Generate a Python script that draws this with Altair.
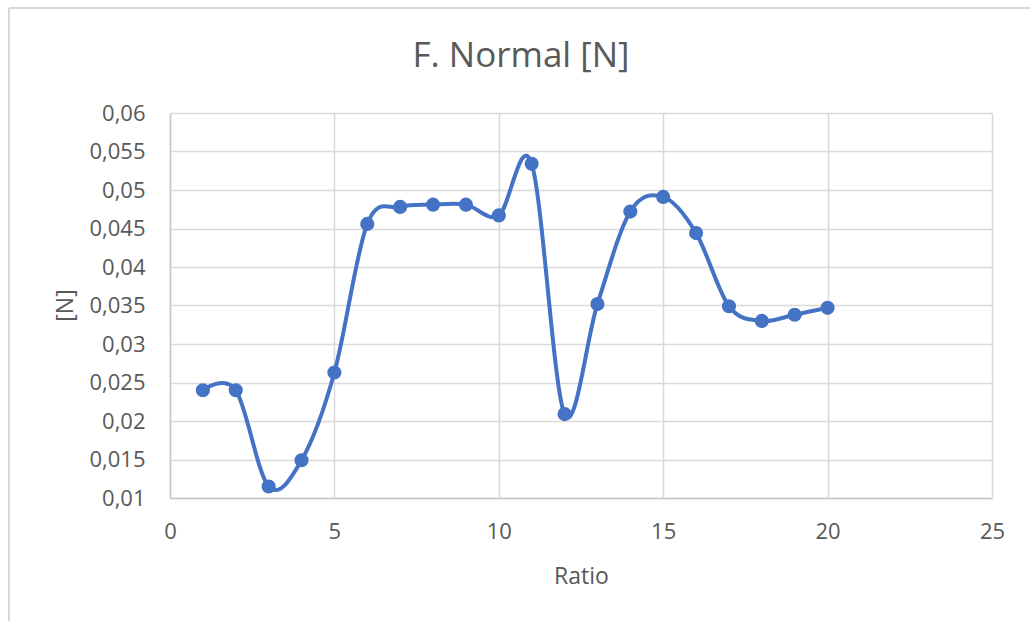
import altair as alt
import pandas as pd

ratio = [1, 2, 3, 4, 5, 6, 7, 8, 9, 10, 11, 12, 13, 14, 15, 16, 17, 18, 19, 20]
force = [0.0240, 0.0240, 0.0115, 0.0149, 0.0263, 0.0456, 0.0478, 0.0481, 0.0481, 0.0467,
         0.0534, 0.0209, 0.0352, 0.0472, 0.0491, 0.0444, 0.0349, 0.0330, 0.0338, 0.0347]
x_ticks = [0, 5, 10, 15, 20, 25]
y_ticks = [0.01, 0.015, 0.02, 0.025, 0.03, 0.035, 0.04, 0.045, 0.05, 0.055, 0.06]

df = pd.DataFrame({"Ratio": ratio, "F": force})

FONT = "Open Sans"
TXT = "#595959"
GRID = "#d9d9d9"
BLUE = "#4472C4"

x_enc = alt.X(
    "Ratio:Q",
    scale=alt.Scale(domain=[0, 25], nice=False, zero=False),
    axis=alt.Axis(
        values=x_ticks, tickCount=len(x_ticks), title="Ratio", ticks=False, labelPadding=23,
        labelFlush=False,
        labelFont=FONT, labelFontSize=22, labelColor=TXT,
        titleFont=FONT, titleFontSize=23, titleFontWeight="normal", titleColor=TXT,
        titleY=78, titleBaseline="middle",
        grid=True, gridColor=GRID, gridWidth=1.5,
        domainColor="#c8c8c8", domainWidth=1.5,
    ),
)
y_enc = alt.Y(
    "F:Q",
    scale=alt.Scale(domain=[0.01, 0.06], nice=False, zero=False),
    axis=alt.Axis(
        values=y_ticks, tickCount=len(y_ticks), title="[N]", ticks=False, labelPadding=25,
        labelOverlap=False, labelFlush=False,
        labelExpr="replace(format(datum.value, '~g'), '.', ',')",
        labelFont=FONT, labelFontSize=22, labelColor=TXT,
        titleFont=FONT, titleFontSize=23, titleFontWeight="normal", titleColor=TXT,
        titleX=-105, titleY=192, titleBaseline="middle",
        grid=True, gridColor=GRID, gridWidth=1.5,
        domainColor="#c8c8c8", domainWidth=1.5,
    ),
)

base = alt.Chart(df)
line = base.mark_line(interpolate="cardinal", color=BLUE, strokeWidth=4).encode(x=x_enc, y=y_enc)
points = base.mark_circle(color=BLUE, opacity=1, size=200).encode(x="Ratio:Q", y="F:Q")

frame_df = pd.DataFrame({"k": [0]})
left_border = alt.Chart(frame_df).mark_rule(color="#d9d9d9", strokeWidth=2).encode(
    x=alt.value(-161), y=alt.value(-105), y2=alt.value(530)
)
top_border = alt.Chart(frame_df).mark_rule(color="#d9d9d9", strokeWidth=2).encode(
    x=alt.value(-161), x2=alt.value(880), y=alt.value(-105)
)

chart = (
    alt.layer(left_border, top_border, line, points)
    .properties(
        width=822,
        height=385,
        autosize=alt.AutoSizeParams(type="none"),
        padding={"left": 170, "top": 113, "right": 38, "bottom": 123},
        title=alt.TitleParams(
            "F. Normal [N]", font=FONT, fontSize=35, fontWeight="normal", color=TXT,
            anchor="middle", frame="group", baseline="middle", offset=0, dy=84, dx=-60,
        ),
        background="white",
    )
    .configure_view(stroke=None)
)

chart.save("out.html", embed_options={"renderer": "svg", "actions": False})
